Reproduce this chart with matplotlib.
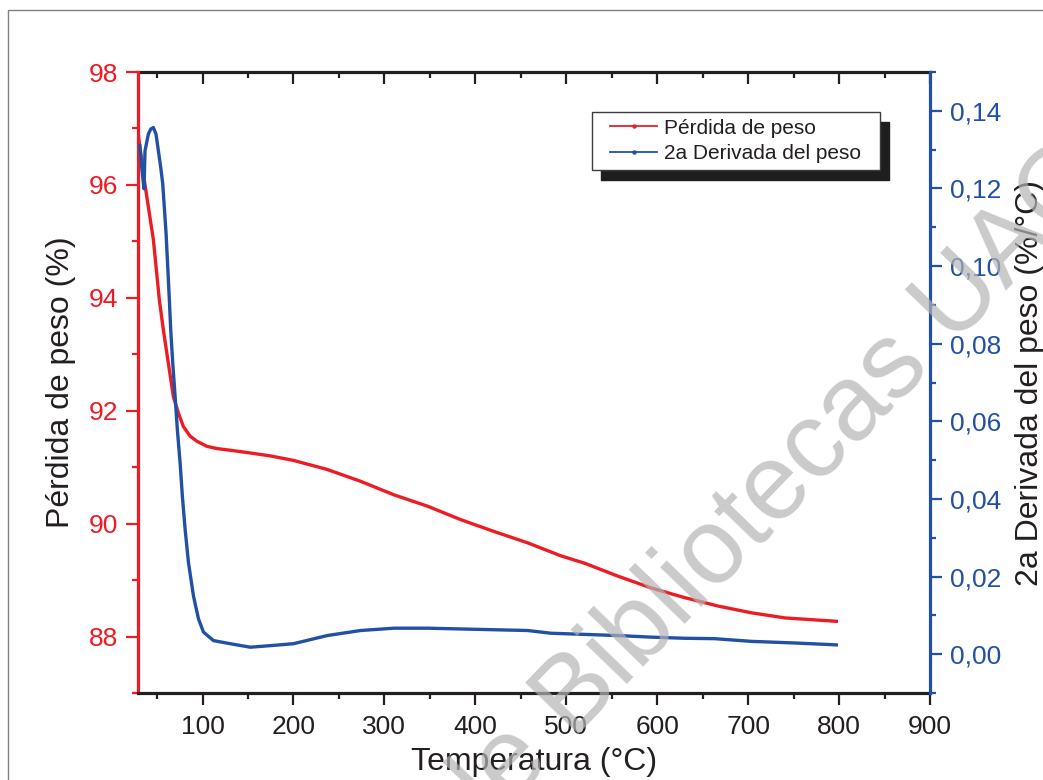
import matplotlib.pyplot as plt
from matplotlib.lines import Line2D
from matplotlib.legend_handler import HandlerLine2D
from matplotlib.patches import Rectangle
from matplotlib.ticker import MultipleLocator, FuncFormatter
from matplotlib.transforms import IdentityTransform

plt.rcParams['font.family'] = ['Liberation Sans', 'DejaVu Sans']

# Pérdida de peso (%) vs temperatura (°C)
temp_peso = [29, 30, 36.7, 45.9, 52.5, 56.9, 62.4, 67.9, 73.4, 78.9, 86.3, 93.7,
             104.7, 115.8, 130.4, 148.8, 174.5, 200, 237, 273.8, 310.5, 347.3,
             384, 420.7, 457.5, 494, 520, 556.8, 593.5, 630, 667, 703.8, 740.5, 797]
peso = [96.97, 96.8, 96.0, 95.03, 93.96, 93.43, 92.84, 92.25, 91.96, 91.72, 91.55,
        91.46, 91.37, 91.33, 91.30, 91.26, 91.20, 91.12, 90.96, 90.75, 90.51,
        90.31, 90.07, 89.86, 89.66, 89.43, 89.30, 89.07, 88.86, 88.69, 88.54,
        88.42, 88.33, 88.27]

# 2a derivada del peso (%/°C)
temp_deriv = [31, 33.4, 35.6, 36.7, 40.4, 43, 45.9, 48.8, 51.4, 54.0, 56.2, 59.9,
              61.7, 63.5, 65.0, 67.2, 69.8, 72.3, 75.3, 77.8, 80.8, 84.5, 90.0,
              95.5, 101.0, 112, 130.4, 152.5, 174.5, 200, 237, 273.8, 310.5, 347,
              384, 420.7, 457.5, 483, 520, 556.8, 593, 630, 663, 703.8, 750, 797]
deriv = [0.1310, 0.1246, 0.1199, 0.1297, 0.1340, 0.1353, 0.1357, 0.1340, 0.1297,
         0.1254, 0.1212, 0.1083, 0.0998, 0.0912, 0.0835, 0.0750, 0.0664, 0.0578,
         0.0493, 0.0407, 0.0322, 0.0236, 0.0150, 0.0091, 0.0057, 0.0035, 0.0027,
         0.0018, 0.0022, 0.0027, 0.0048, 0.0061, 0.0067, 0.0067, 0.0065, 0.0063,
         0.0061, 0.0054, 0.0051, 0.0048, 0.0044, 0.0041, 0.0040, 0.0033, 0.0029,
         0.0024]

RED = '#ED1C24'
BLUE = '#2150A5'
INK = '#231F20'

W, H = 1043, 780
fig = plt.figure(figsize=(W / 100, H / 100), dpi=100)
ax = fig.add_axes([138 / W, 1 - 693 / H, 792 / W, 621 / H])
ax2 = ax.twinx()
ax.patch.set_visible(False)

ax.plot(temp_peso, peso, color=RED, lw=2.4)
ax2.plot(temp_deriv, deriv, color=BLUE, lw=2.4)

ax.set_xlim(29, 900)
ax.set_ylim(87, 98)
ax2.set_ylim(-0.01, 0.15)

# x axis
ax.xaxis.set_major_locator(MultipleLocator(100))
ax.xaxis.set_minor_locator(MultipleLocator(50))
ax.tick_params(axis='x', which='both', direction='out', color=INK, labelcolor=INK,
               labelsize=19, width=1.6, pad=7)
ax.tick_params(axis='x', which='major', length=8.5)
ax.tick_params(axis='x', which='minor', length=4.5)
ax.spines['bottom'].set_color(INK)
ax.spines['bottom'].set_linewidth(2.3)
ax.spines['top'].set_visible(False)
ax.spines['right'].set_visible(False)

top = ax.secondary_xaxis('top')
top.xaxis.set_major_locator(MultipleLocator(100))
top.xaxis.set_minor_locator(MultipleLocator(50))
top.tick_params(which='both', direction='in', color=INK, width=1.6, labeltop=False)
top.tick_params(which='major', length=8.5)
top.tick_params(which='minor', length=4.5)
top.spines['top'].set_color(INK)
top.spines['top'].set_linewidth(2.3)

# left axis
ax.yaxis.set_major_locator(MultipleLocator(2))
ax.yaxis.set_minor_locator(MultipleLocator(1))
ax.tick_params(axis='y', which='both', direction='out', colors=RED, labelsize=19,
               width=1.6, pad=6)
ax.tick_params(axis='y', which='major', length=8.5)
ax.tick_params(axis='y', which='minor', length=4.5)
ax.spines['left'].set_color(RED)
ax.spines['left'].set_linewidth(2.3)

# right axis
def coma(v, _):
    if abs(v) < 1e-9:
        v = 0.0
    return f'{v:.2f}'.replace('.', ',')

ax2.yaxis.set_major_locator(MultipleLocator(0.02))
ax2.yaxis.set_minor_locator(MultipleLocator(0.01))
ax2.yaxis.set_major_formatter(FuncFormatter(coma))
ax2.tick_params(axis='y', which='both', direction='out', colors=BLUE, labelsize=19,
                width=1.6, pad=6)
ax2.tick_params(axis='y', which='major', length=8.5)
ax2.tick_params(axis='y', which='minor', length=4.5)
ax2.spines['right'].set_color(BLUE)
ax2.spines['right'].set_linewidth(2.3)
for s in ['left', 'top', 'bottom']:
    ax2.spines[s].set_visible(False)

ax.set_xlabel('Temperatura (°C)', fontsize=23, color=INK, labelpad=6)
ax.set_ylabel('Pérdida de peso (%)', fontsize=23, color=INK, labelpad=9)
ax2.set_ylabel('2a Derivada del peso (%/°C)', fontsize=23, color=INK, labelpad=10)

# legend with offset black shadow
h1 = Line2D([], [], color=RED, lw=1.3, marker='o', ms=2.2)
h2 = Line2D([], [], color=BLUE, lw=1.3, marker='o', ms=2.2)
leg = ax2.legend([h1, h2], ['Pérdida de peso', '2a Derivada del peso'],
                 loc='upper left', mode='expand',
                 bbox_to_anchor=(592 / W, 1 - 168 / H, 288 / W, 56 / H),
                 bbox_transform=fig.transFigure, borderaxespad=0, fontsize=15,
                 frameon=True, fancybox=False, edgecolor='#3c3c3c', framealpha=1,
                 borderpad=0.32, labelspacing=0.3, handlelength=2.8,
                 handletextpad=0.35,
                 handler_map={h1: HandlerLine2D(xpad=0.55), h2: HandlerLine2D(xpad=0.55)})
leg.get_frame().set_linewidth(1.0)
for t in leg.get_texts():
    t.set_color(INK)

fig.canvas.draw()
bb = leg.get_frame().get_window_extent()
shadow = Rectangle((bb.x0 + 9, bb.y0 - 10), bb.width, bb.height,
                   transform=IdentityTransform(), color='#1e1e1e',
                   zorder=leg.get_zorder() - 0.1)
ax2.add_artist(shadow)

# page frame and watermark
fig.add_artist(Rectangle((8 / W, -0.1), 2, 1 - 10 / H + 0.1, transform=fig.transFigure,
                         fill=False, ec='#808080', lw=1))
fig.text(470 / W, 1 - 847 / H, 'de Bibliotecas UAQ', rotation=46,
         rotation_mode='anchor', ha='left', va='baseline', fontsize=77,
         color='#b4b4b4', alpha=0.7)

fig.savefig('out.png', dpi=100)
